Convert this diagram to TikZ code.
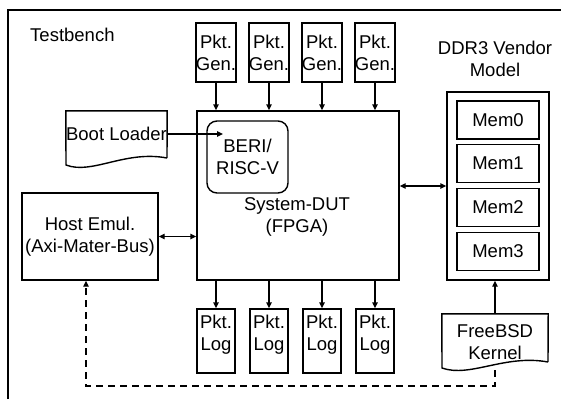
\documentclass[tikz,border=0pt]{standalone}
\usepackage{fontspec}
\setmainfont{Liberation Sans}
\usetikzlibrary{arrows.meta}
\begin{document}
\begin{tikzpicture}[x=1pt,y=-1pt,
  every node/.style={font=\fontsize{18.5}{22}\selectfont, inner sep=0pt, align=center},
  box/.style={draw, line width=1.4pt},
  txt/.style={},
  ln/.style={line width=1.4pt},
  arr/.style={line width=1.4pt, -{Triangle[length=6pt,width=5.5pt]}},
  darr/.style={line width=1.4pt, {Triangle[length=6pt,width=5.5pt]}-{Triangle[length=6pt,width=5.5pt]}},
  pkt/.style={box, minimum width=38pt, minimum height=59pt},
  pktl/.style={box, minimum width=38pt, minimum height=64pt},
  mem/.style={box, minimum width=82pt, minimum height=38pt}]
\useasboundingbox (0,0) rectangle (561,399);
% outer frame
\coordinate (fbl) at (8,399);
\coordinate (ftl) at (8,10);
\coordinate (ftr) at (561,10);
\draw[ln] (fbl) -- (ftl) -- (ftr);
\node[txt, anchor=west] (tb) at (30,35) {Testbench};
% packet generators
\node[pkt] (g1) at (216,52.5) {Pkt.\\Gen.};
\node[pkt] (g2) at (269,52.5) {Pkt.\\Gen.};
\node[pkt] (g3) at (322,52.5) {Pkt.\\Gen.};
\node[pkt] (g4) at (375,52.5) {Pkt.\\Gen.};
% DUT
\node[box, minimum width=202pt, minimum height=169pt] (dut) at (298,195.5) {};
\node[txt] (dutl) at (297,217) {System-DUT\\(FPGA)};
\node[box, rounded corners=10pt, minimum width=81pt, minimum height=72pt] (beri) at (247.5,157) {BERI/\\RISC-V};
\foreach \g in {g1,g2,g3,g4}{
  \draw[arr] (\g.south) -- (\g.south |- dut.north);
}
% packet logs
\foreach \i/\x in {1/216,2/269,3/322,4/375}{
  \node[pktl] (l\i) at (\x,341) {};
  \node[txt] (l\i t) at (\x,335) {Pkt.\\Log};
  \draw[arr] (l\i.north |- dut.south) -- (l\i.north);
}
% boot loader
\node[minimum width=101pt, minimum height=46pt] (boot) at (116.5,134) {Boot Loader};
\draw[ln] (167,158) -- (boot.north east) -- (boot.north west) -- (66,165)
  .. controls (92,175) and (125,150) .. (167,158);
\coordinate (bt) at (223,134);
\draw[arr] (boot.east) -- (bt);
% host emulator
\node[box, minimum width=136pt, minimum height=87pt] (host) at (90,236.5) {Host Emul.\\(Axi-Mater-Bus)};
\draw[darr] (host.east) -- (host.east -| dut.west);
% DDR3
\node[txt] (ddrl) at (495,59) {DDR3 Vendor\\Model};
\node[box, minimum width=102pt, minimum height=188pt] (ddr) at (498,186) {};
\node[mem] (m0) at (498,120) {Mem0};
\node[mem] (m1) at (498,163.5) {Mem1};
\node[mem] (m2) at (498,207.5) {Mem2};
\node[mem] (m3) at (498,251.5) {Mem3};
\draw[darr] (ddr.west -| dut.east) -- (ddr.west);
% FreeBSD kernel
\node[minimum width=106pt, minimum height=56pt] (bsd) at (495,342) {FreeBSD\\Kernel};
\draw[ln] (548,362) -- (bsd.north east) -- (bsd.north west) -- (442,368)
  .. controls (470,378) and (505,354) .. (548,362);
\draw[arr] (bsd.north) -- (bsd.north |- ddr.south);
\coordinate (dr) at (495,386);
\coordinate (dl) at (86,386);
\draw[arr, dash pattern=on 7pt off 5pt] (bsd.south) -- (dr) -- (dl) -- (dl |- host.south);
\end{tikzpicture}
\end{document}
